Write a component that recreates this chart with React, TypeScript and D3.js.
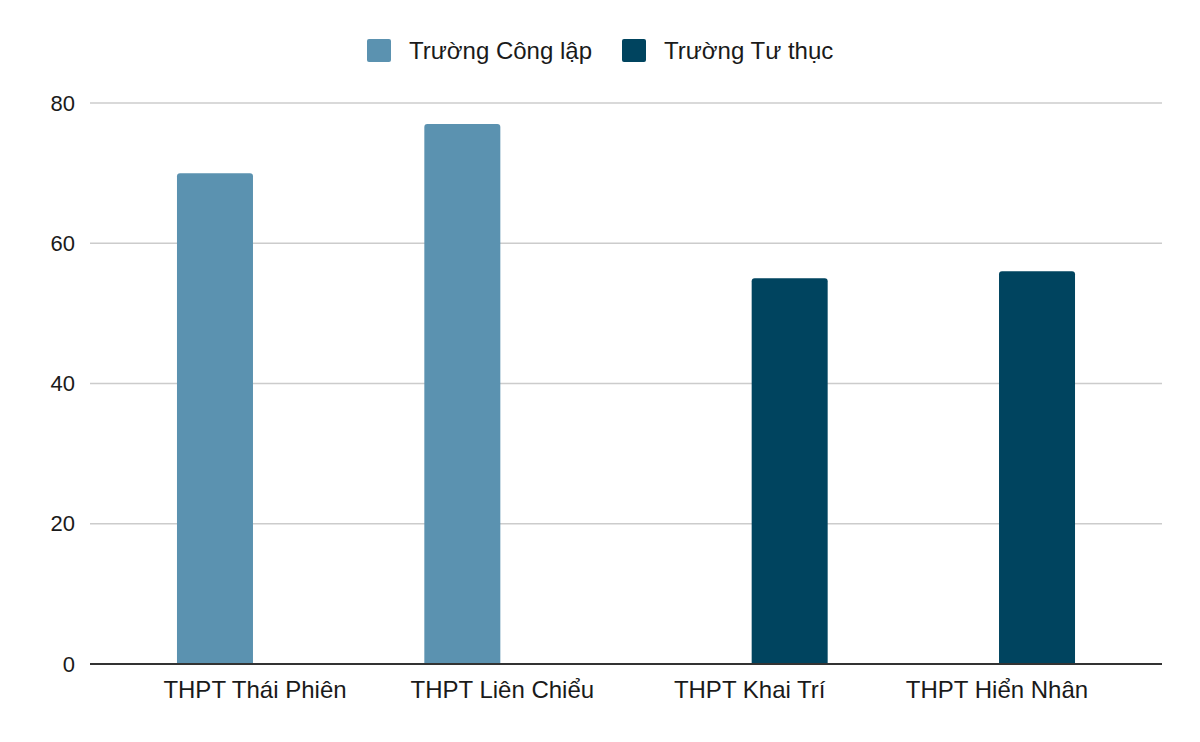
import React, { useEffect, useRef } from 'react';
import * as d3 from 'd3';

const categories = ['THPT Thái Phiên', 'THPT Liên Chiểu', 'THPT Khai Trí', 'THPT Hiển Nhân'];
const seriesNames = ['Trường Công lập', 'Trường Tư thục'];
const congLap = [70, 77, null, null];
const tuThuc = [null, null, 55, 56];
const yTicks = [0, 20, 40, 60, 80];
const colors = ['#5b92b0', '#00445f'];

export default function App() {
  const ref = useRef<SVGSVGElement>(null);

  useEffect(() => {
    if (!ref.current) return;
    const svg = d3.select(ref.current);
    svg.selectAll('*').remove();

    const width = 1200;
    const height = 742;
    const margin = { top: 103, right: 38, bottom: 78, left: 90 };
    const font = 'Arial, "Liberation Sans", sans-serif';

    svg.attr('width', width).attr('height', height).attr('viewBox', `0 0 ${width} ${height}`);

    const x0 = d3
      .scaleBand<string>()
      .domain(categories)
      .range([margin.left, width - margin.right])
      .paddingInner(0)
      .paddingOuter(0.167);

    const x1 = d3
      .scaleBand<string>()
      .domain(seriesNames)
      .range([-78, 78])
      .paddingInner(0.05);

    const y = d3
      .scaleLinear()
      .domain([0, 80])
      .range([height - margin.bottom, margin.top]);

    // ------- Grid -------
    svg
      .append('g')
      .selectAll('line')
      .data(yTicks.filter((t) => t !== 0))
      .enter()
      .append('line')
      .attr('x1', margin.left)
      .attr('x2', width - margin.right)
      .attr('y1', (d) => y(d))
      .attr('y2', (d) => y(d))
      .attr('stroke', '#cccccc')
      .attr('stroke-width', 1.5);

    svg
      .append('g')
      .selectAll('text')
      .data(yTicks)
      .enter()
      .append('text')
      .attr('x', 75)
      .attr('y', (d) => y(d))
      .attr('dy', '0.35em')
      .attr('text-anchor', 'end')
      .attr('font-family', font)
      .attr('font-size', 22)
      .attr('fill', '#1a1a1a')
      .text((d) => d);

    // ------- Bars -------
    const series = [congLap, tuThuc];
    series.forEach((vals, si) => {
      svg
        .append('g')
        .selectAll('path')
        .data(vals.map((v, i) => ({ v, c: categories[i] })).filter((d) => d.v != null))
        .enter()
        .append('path')
        .attr('fill', colors[si])
        .attr('d', (d) => {
          const cx = x0(d.c)! + x0.bandwidth() / 2;
          const bx = cx + x1(seriesNames[si])!;
          const bw = x1.bandwidth();
          const top = y(d.v as number);
          const bottom = y(0);
          const r = 3;
          return `M${bx},${bottom}V${top + r}Q${bx},${top} ${bx + r},${top}H${bx + bw - r}Q${bx + bw},${top} ${bx + bw},${top + r}V${bottom}Z`;
        });
    });

    // ------- Baseline -------
    svg
      .append('line')
      .attr('x1', margin.left)
      .attr('x2', width - margin.right)
      .attr('y1', y(0))
      .attr('y2', y(0))
      .attr('stroke', '#333')
      .attr('stroke-width', 2);

    // ------- Category labels -------
    svg
      .append('g')
      .selectAll('text')
      .data(categories)
      .enter()
      .append('text')
      .attr('x', (d) => x0(d)! + x0.bandwidth() / 2)
      .attr('y', 698)
      .attr('text-anchor', 'middle')
      .attr('font-family', font)
      .attr('font-size', 24)
      .attr('fill', '#1a1a1a')
      .text((d) => d);

    // ------- Legend -------
    const legendX = [367, 622];
    const lg = svg.append('g');
    seriesNames.forEach((name, i) => {
      lg.append('rect')
        .attr('x', legendX[i])
        .attr('y', 39)
        .attr('width', 24)
        .attr('height', 23)
        .attr('rx', 2)
        .attr('fill', colors[i]);
      lg.append('text')
        .attr('x', legendX[i] + 42)
        .attr('y', 59)
        .attr('font-family', font)
        .attr('font-size', 24)
        .attr('fill', '#1a1a1a')
        .text(name);
    });
  }, []);

  return (
    <div style={{ margin: -8 }}>
      <svg ref={ref} style={{ display: 'block' }} />
    </div>
  );
}
